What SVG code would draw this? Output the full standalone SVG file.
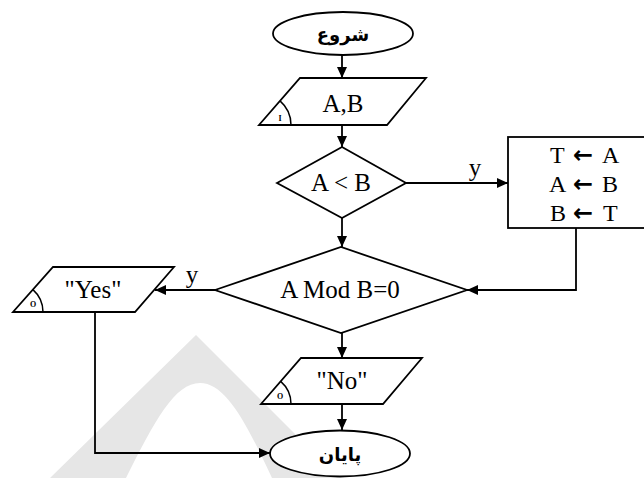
<svg xmlns="http://www.w3.org/2000/svg" width="644" height="478" viewBox="0 0 644 478">
<style>
.s{fill:#fff;stroke:#000;stroke-width:1.8}
.c{fill:none;stroke:#000;stroke-width:1.8}
.t{font-family:"Liberation Serif","Times New Roman",serif;font-size:25px;text-anchor:middle;fill:#000}
.tl{font-family:"Liberation Serif","Times New Roman",serif;font-size:24px;fill:#000}
.ar{font-family:"DejaVu Sans",sans-serif;font-weight:bold;font-size:24px}
.fa{font-family:"DejaVu Sans","Noto Sans",sans-serif;font-size:18px;font-weight:bold;text-anchor:middle;fill:#000}
.m{font-family:"Liberation Serif",serif;font-size:8px;font-weight:bold;text-anchor:middle;fill:#000}
.a{fill:none;stroke:#000;stroke-width:1.5}
</style>
<defs>
<marker id="ar" markerUnits="userSpaceOnUse" markerWidth="12" markerHeight="10" refX="11" refY="5" orient="auto">
<path d="M0,0 L11,5 L0,10 Z" fill="#000"/>
</marker>
</defs>
<rect width="644" height="478" fill="#fff"/>
<path id="watermark" d="M50 478 L196 335 L339 478 L272 478 C245 420 225 383 200 383 C175 383 155 420 126 478 Z" fill="#e6e6e6"/>
<g id="connectors">
<line class="c" x1="342" y1="55" x2="342" y2="78" marker-end="url(#ar)"/>
<line class="c" x1="342" y1="125" x2="342" y2="147" marker-end="url(#ar)"/>
<line class="c" x1="406" y1="183" x2="508" y2="183" marker-end="url(#ar)"/>
<text class="t" x="475" y="176">y</text>
<line class="c" x1="342" y1="218" x2="342" y2="247" marker-end="url(#ar)"/>
<polyline class="c" points="576,228 576,290 467,290" marker-end="url(#ar)"/>
<line class="c" x1="215" y1="290" x2="155" y2="290" marker-end="url(#ar)"/>
<text class="t" x="192" y="283">y</text>
<line class="c" x1="342" y1="333" x2="342" y2="358" marker-end="url(#ar)"/>
<line class="c" x1="342" y1="404" x2="342" y2="430" marker-end="url(#ar)"/>
<polyline class="c" points="95,312 95,453 270,453" marker-end="url(#ar)"/>
</g>
<g id="start">
<ellipse class="s" cx="343" cy="33.5" rx="70" ry="21.5"/>
<text class="fa" x="343" y="41">شروع</text>
</g>
<g id="inputAB">
<polygon class="s" points="300,78 426,78 387,125 259,125"/>
<path class="a" d="M291 125 A32 32 0 0 0 280 100.9"/>
<text class="m" x="280" y="121">I</text>
<text class="t" x="343" y="112">A,B</text>
</g>
<g id="cond1">
<polygon class="s" points="277,183 342,147 406,183 342,218"/>
<text class="t" x="341" y="191">A &lt; B</text>
</g>
<g id="swap">
<rect class="s" x="508" y="137" width="150" height="91"/>
<text class="tl" y="163"><tspan x="550">T</tspan><tspan x="573" class="ar">←</tspan><tspan x="602">A</tspan></text>
<text class="tl" y="192"><tspan x="549">A</tspan><tspan x="573" class="ar">←</tspan><tspan x="602">B</tspan></text>
<text class="tl" y="221"><tspan x="550">B</tspan><tspan x="573" class="ar">←</tspan><tspan x="603">T</tspan></text>
</g>
<g id="cond2">
<polygon class="s" points="215,290 341,247 467,290 341,333"/>
<text class="t" x="340" y="298">A Mod B=0</text>
</g>
<g id="outYes">
<polygon class="s" points="53,267 174,267 135,312 13,312"/>
<path class="a" d="M43 312 A30 30 0 0 0 32.9 289.6"/>
<text class="m" x="33" y="307">O</text>
<text class="t" x="93" y="298">"Yes"</text>
</g>
<g id="outNo">
<polygon class="s" points="301,358 422,358 383,404 261,404"/>
<path class="a" d="M291 404 A30 30 0 0 0 280.7 381.4"/>
<text class="m" x="280" y="399">O</text>
<text class="t" x="342" y="389">"No"</text>
</g>
<g id="end">
<ellipse class="s" cx="340" cy="453.5" rx="70" ry="23"/>
<text class="fa" x="340" y="461">پایان</text>
</g>
</svg>
